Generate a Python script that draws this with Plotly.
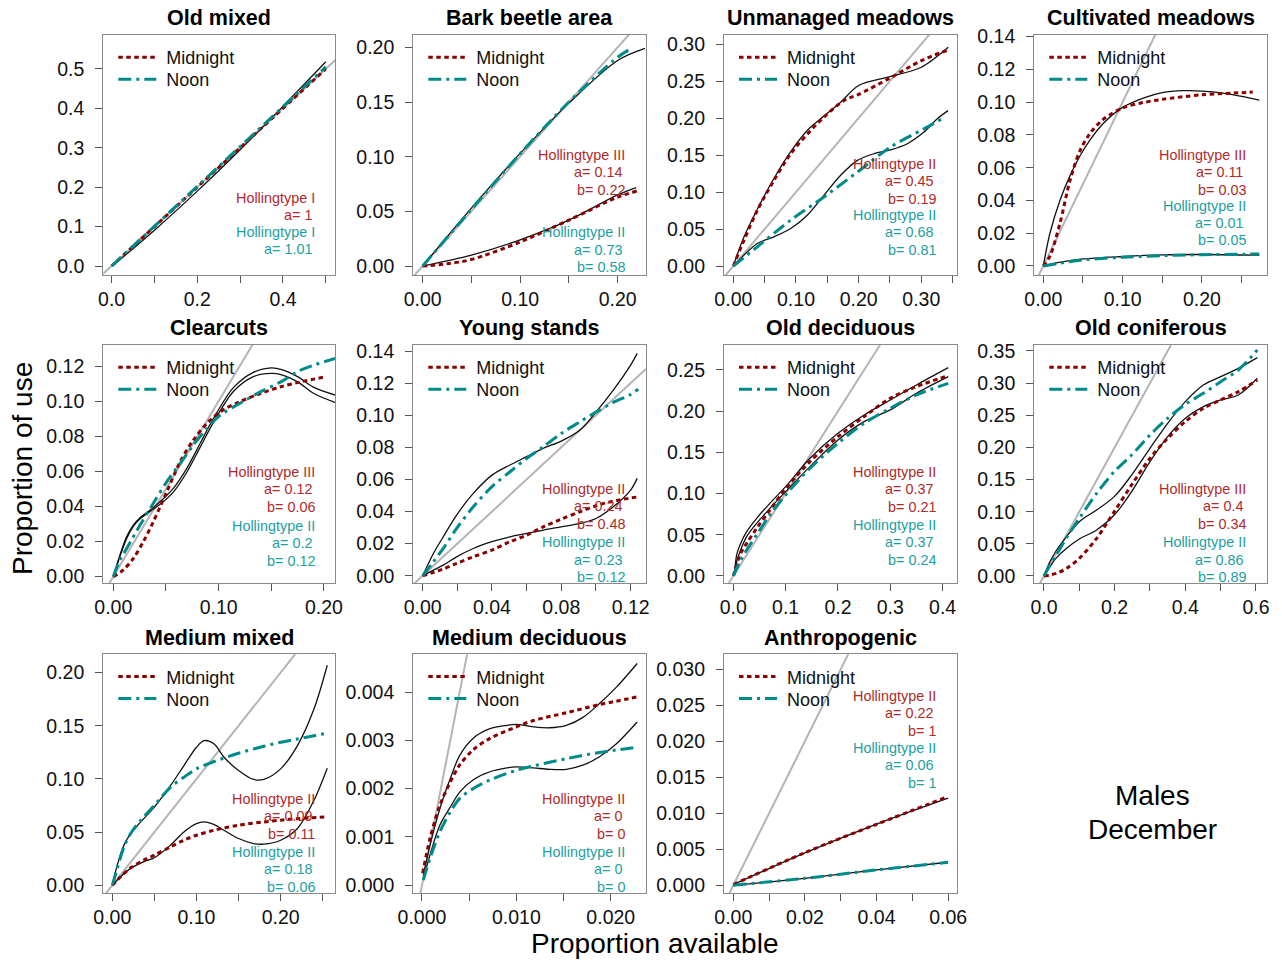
import plotly.graph_objects as go

W, H = 1282, 960

# ------------------------------------------------------------------
# Values
# ------------------------------------------------------------------
panel_titles = ["Old mixed", "Bark beetle area", "Unmanaged meadows", "Cultivated meadows",
                "Clearcuts", "Young stands", "Old deciduous", "Old coniferous",
                "Medium mixed", "Medium deciduous", "Anthropogenic"]

# Old mixed
om_smooth_x = [0.005, 0.1, 0.2, 0.3, 0.4, 0.5]
om_smooth_y = [0.003, 0.091, 0.19, 0.295, 0.405, 0.518]
om_mid_x = [0.0, 0.5]
om_mid_y = [0.0, 0.5]
om_noon_x = [0.0, 0.5]
om_noon_y = [0.0, 0.505]
om_mid_label = ["Hollingtype I", "a= 1"]
om_noon_label = ["Hollingtype I", "a= 1.01"]

# Bark beetle area
bb_smooth_mid_x = [0.0, 0.05, 0.1, 0.15, 0.2, 0.219]
bb_smooth_mid_y = [0.0, 0.010, 0.024, 0.042, 0.065, 0.0717]
bb_smooth_noon_x = [0.0, 0.05, 0.1, 0.15, 0.2, 0.228]
bb_smooth_noon_y = [0.0, 0.053, 0.103, 0.149, 0.188, 0.199]
bb_mid_x = [0.0, 0.025, 0.05, 0.1, 0.15, 0.2, 0.22]
bb_mid_y = [0.0, 0.002, 0.006, 0.022, 0.042, 0.063, 0.0687]
bb_noon_x = [0.0, 0.05, 0.1, 0.15, 0.2, 0.212]
bb_noon_y = [0.0, 0.052, 0.1027, 0.150, 0.191, 0.198]
bb_mid_label = ["Hollingtype III", "a= 0.14", "b= 0.22"]
bb_noon_label = ["Hollingtype II", "a= 0.73", "b= 0.58"]

# Unmanaged meadows
um_smooth_mid_x = [0.0, 0.0171, 0.0383, 0.065, 0.0916, 0.118, 0.1447, 0.1713, 0.2, 0.25, 0.3, 0.343]
um_smooth_mid_y = [0.0, 0.0395, 0.0768, 0.1186, 0.1545, 0.1832, 0.2026, 0.2214, 0.244, 0.256, 0.2686, 0.2955]
um_smooth_noon_x = [0.0, 0.0383, 0.065, 0.0916, 0.118, 0.1447, 0.1713, 0.198, 0.2245, 0.2511, 0.2777, 0.3043, 0.3255, 0.3426]
um_smooth_noon_y = [0.0, 0.0305, 0.0395, 0.0507, 0.0687, 0.0957, 0.1226, 0.1428, 0.1518, 0.157, 0.1653, 0.181, 0.199, 0.210]
um_mid_x = [0.0, 0.0171, 0.0383, 0.065, 0.0916, 0.1235, 0.1447, 0.1766, 0.2, 0.25, 0.3, 0.343]
um_mid_y = [0.0, 0.035, 0.0754, 0.1159, 0.1518, 0.1832, 0.2012, 0.2237, 0.232, 0.254, 0.2775, 0.292]
um_noon_x = [0.0, 0.0383, 0.0916, 0.1447, 0.198, 0.251, 0.3043, 0.3335]
um_noon_y = [0.0, 0.026, 0.062, 0.0934, 0.127, 0.1608, 0.1855, 0.199]
um_mid_label = ["Hollingtype II", "a= 0.45", "b= 0.19"]
um_noon_label = ["Hollingtype II", "a= 0.68", "b= 0.81"]

# Cultivated meadows
cm_smooth_mid_x = [0.0, 0.0084, 0.021, 0.0336, 0.046, 0.059, 0.0756, 0.1, 0.126, 0.15, 0.1765, 0.2, 0.227, 0.25, 0.2723]
cm_smooth_mid_y = [0.0, 0.02, 0.04, 0.055, 0.067, 0.077, 0.087, 0.0968, 0.1025, 0.1058, 0.107, 0.1068, 0.1055, 0.1035, 0.1013]
cm_smooth_noon_x = [0.0, 0.02, 0.05, 0.1, 0.15, 0.2, 0.2723]
cm_smooth_noon_y = [0.0, 0.0022, 0.0043, 0.0058, 0.0068, 0.0070, 0.0066]
cm_mid_x = [0.0, 0.0084, 0.021, 0.0336, 0.046, 0.059, 0.0756, 0.1, 0.126, 0.15, 0.2, 0.25, 0.264]
cm_mid_y = [0.0, 0.006, 0.026, 0.052, 0.070, 0.081, 0.0895, 0.0965, 0.0998, 0.1017, 0.1045, 0.1058, 0.1062]
cm_noon_x = [0.0, 0.02, 0.05, 0.1, 0.15, 0.2, 0.2723]
cm_noon_y = [0.0, 0.0016, 0.0037, 0.0053, 0.0063, 0.0069, 0.0073]
cm_mid_label = ["Hollingtype III", "a= 0.11", "b= 0.03"]
cm_noon_label = ["Hollingtype II", "a= 0.01", "b= 0.05"]

# Clearcuts
cc_smooth_a_x = [0.0, 0.0063, 0.0127, 0.019, 0.0254, 0.035, 0.0444, 0.057, 0.0698, 0.0825, 0.095, 0.114, 0.133, 0.15, 0.16, 0.175, 0.19, 0.2105]
cc_smooth_a_y = [0.0, 0.0123, 0.0228, 0.0294, 0.0336, 0.038, 0.0427, 0.0503, 0.0617, 0.076, 0.090, 0.1077, 0.1164, 0.119, 0.118, 0.114, 0.108, 0.1035]
cc_smooth_b_x = [0.0, 0.0063, 0.0127, 0.019, 0.0254, 0.035, 0.0444, 0.057, 0.0698, 0.0825, 0.095, 0.114, 0.133, 0.15, 0.16, 0.175, 0.19, 0.2105]
cc_smooth_b_y = [0.0, 0.0115, 0.0218, 0.0287, 0.033, 0.0372, 0.0412, 0.0482, 0.0595, 0.0738, 0.0878, 0.1055, 0.1140, 0.1158, 0.1150, 0.111, 0.1045, 0.0993]
cc_mid_x = [0.0, 0.0095, 0.019, 0.0286, 0.038, 0.0508, 0.0635, 0.076, 0.0889, 0.1016, 0.12, 0.14, 0.159, 0.178, 0.2016]
cc_mid_y = [0.0, 0.0038, 0.0104, 0.020, 0.0313, 0.0484, 0.0655, 0.0778, 0.0873, 0.094, 0.0997, 0.1044, 0.1082, 0.111, 0.1139]
cc_noon_x = [0.0, 0.0063, 0.0127, 0.0254, 0.038, 0.0508, 0.0635, 0.076, 0.089, 0.1016, 0.12, 0.14, 0.159, 0.178, 0.2105]
cc_noon_y = [0.0, 0.0095, 0.016, 0.0294, 0.0418, 0.0541, 0.0646, 0.075, 0.0845, 0.092, 0.0987, 0.1054, 0.111, 0.1177, 0.1244]
cc_mid_label = ["Hollingtype III", "a= 0.12", "b= 0.06"]
cc_noon_label = ["Hollingtype II", "a= 0.2", "b= 0.12"]

# Young stands
ys_smooth_noon_x = [0.0, 0.0062, 0.0119, 0.0196, 0.0292, 0.04, 0.0504, 0.06, 0.0696, 0.08, 0.0908, 0.1, 0.11, 0.12, 0.1238]
ys_smooth_noon_y = [0.0, 0.0139, 0.0243, 0.0378, 0.0513, 0.0627, 0.069, 0.0742, 0.0794, 0.0839, 0.0908, 0.102, 0.1157, 0.1313, 0.1386]
ys_smooth_mid_x = [0.0, 0.0062, 0.0119, 0.0196, 0.0292, 0.04, 0.0504, 0.06, 0.0696, 0.08, 0.0908, 0.1, 0.11, 0.12, 0.1238]
ys_smooth_mid_y = [0.0, 0.0035, 0.0066, 0.0118, 0.017, 0.0212, 0.0243, 0.0264, 0.0285, 0.0305, 0.0326, 0.0357, 0.043, 0.0534, 0.0607]
ys_mid_x = [0.0, 0.0062, 0.0119, 0.0196, 0.0292, 0.04, 0.0504, 0.06, 0.0696, 0.08, 0.0908, 0.1, 0.11, 0.1244]
ys_mid_y = [0.0, 0.0021, 0.0042, 0.0077, 0.0118, 0.016, 0.0212, 0.0253, 0.0305, 0.0353, 0.0399, 0.0436, 0.0465, 0.0492]
ys_noon_x = [0.0, 0.0062, 0.0119, 0.0196, 0.0292, 0.04, 0.0504, 0.06, 0.0696, 0.08, 0.0908, 0.1, 0.11, 0.12, 0.1244]
ys_noon_y = [0.0, 0.0087, 0.017, 0.0295, 0.043, 0.0555, 0.0648, 0.0731, 0.0804, 0.0887, 0.096, 0.102, 0.108, 0.113, 0.1163]
ys_mid_label = ["Hollingtype II", "a= 0.24", "b= 0.48"]
ys_noon_label = ["Hollingtype II", "a= 0.23", "b= 0.12"]

# Old deciduous
od_smooth_a_x = [0.002, 0.0064, 0.0127, 0.0255, 0.0446, 0.07, 0.1, 0.1465, 0.2, 0.25, 0.3, 0.35, 0.4108]
od_smooth_a_y = [0.0, 0.0255, 0.0376, 0.0538, 0.07, 0.0882, 0.1084, 0.1428, 0.1731, 0.1954, 0.2136, 0.2318, 0.2528]
od_smooth_b_x = [0.002, 0.0064, 0.0127, 0.0255, 0.0446, 0.07, 0.1, 0.1465, 0.2, 0.25, 0.3, 0.35, 0.4108]
od_smooth_b_y = [0.0, 0.0174, 0.0295, 0.0477, 0.0639, 0.0821, 0.1023, 0.1327, 0.165, 0.1873, 0.2015, 0.2217, 0.2419]
od_mid_x = [0.0, 0.0127, 0.0255, 0.0446, 0.07, 0.1, 0.1465, 0.2, 0.25, 0.3, 0.35, 0.4108]
od_mid_y = [0.0, 0.0255, 0.0396, 0.0578, 0.080, 0.1056, 0.1388, 0.169, 0.1934, 0.2156, 0.2298, 0.2431]
od_noon_x = [0.0, 0.0127, 0.0255, 0.0446, 0.07, 0.1, 0.1465, 0.2, 0.25, 0.3, 0.35, 0.4108]
od_noon_y = [0.0, 0.0174, 0.0316, 0.0498, 0.074, 0.0983, 0.1307, 0.161, 0.1853, 0.2035, 0.2197, 0.2338]
od_mid_label = ["Hollingtype II", "a= 0.37", "b= 0.21"]
od_noon_label = ["Hollingtype II", "a= 0.37", "b= 0.24"]

# Old coniferous
oc_smooth_noon_x = [0.0, 0.017, 0.0358, 0.064, 0.1, 0.149, 0.199, 0.248, 0.3, 0.35, 0.4, 0.451, 0.5, 0.55, 0.6038]
oc_smooth_noon_y = [0.0, 0.0223, 0.0404, 0.0612, 0.0845, 0.1027, 0.1234, 0.157, 0.1986, 0.2375, 0.2712, 0.2971, 0.310, 0.323, 0.3396]
oc_smooth_mid_x = [0.0, 0.017, 0.0358, 0.064, 0.1, 0.149, 0.199, 0.248, 0.3, 0.35, 0.4, 0.451, 0.5, 0.55, 0.6038]
oc_smooth_mid_y = [0.0, 0.0145, 0.0285, 0.043, 0.0576, 0.0716, 0.0949, 0.1312, 0.1778, 0.2167, 0.2453, 0.2634, 0.2738, 0.2816, 0.3075]
oc_mid_x = [0.0, 0.0358, 0.064, 0.1, 0.149, 0.199, 0.248, 0.3, 0.35, 0.4, 0.451, 0.5, 0.55, 0.6038]
oc_mid_y = [0.0, 0.0041, 0.0119, 0.0275, 0.0586, 0.1001, 0.1416, 0.183, 0.2141, 0.2401, 0.2608, 0.2738, 0.2867, 0.3049]
oc_noon_x = [0.0, 0.017, 0.0358, 0.064, 0.1, 0.149, 0.199, 0.248, 0.3, 0.35, 0.4, 0.451, 0.5, 0.55, 0.6038]
oc_noon_y = [0.0, 0.0171, 0.0337, 0.0596, 0.0897, 0.1286, 0.1623, 0.1882, 0.2193, 0.2453, 0.267, 0.2841, 0.3023, 0.3204, 0.3516]
oc_mid_label = ["Hollingtype III", "a= 0.4", "b= 0.34"]
oc_noon_label = ["Hollingtype II", "a= 0.86", "b= 0.89"]

# Medium mixed
mm_smooth_noon_x = [0.0, 0.0059, 0.0139, 0.0218, 0.0337, 0.05, 0.0693, 0.0851, 0.1, 0.109, 0.121, 0.1327, 0.15, 0.168, 0.18, 0.2, 0.22, 0.2396, 0.2554]
mm_smooth_noon_y = [0.0, 0.019, 0.0378, 0.0487, 0.0596, 0.0736, 0.0939, 0.1126, 0.1298, 0.136, 0.1329, 0.1204, 0.108, 0.0995, 0.0995, 0.1095, 0.1314, 0.1657, 0.2069]
mm_smooth_mid_x = [0.0, 0.0099, 0.0218, 0.0376, 0.05, 0.0693, 0.0851, 0.1, 0.109, 0.121, 0.1327, 0.15, 0.168, 0.18, 0.2, 0.22, 0.2396, 0.2554]
mm_smooth_mid_y = [0.0, 0.0081, 0.0159, 0.0222, 0.0259, 0.0378, 0.0502, 0.058, 0.0596, 0.0571, 0.0518, 0.044, 0.0393, 0.0387, 0.0424, 0.0534, 0.0799, 0.1101]
mm_mid_x = [0.0, 0.0099, 0.0218, 0.0376, 0.05, 0.0693, 0.0851, 0.1, 0.121, 0.15, 0.18, 0.2, 0.22, 0.2554]
mm_mid_y = [0.0, 0.0081, 0.0165, 0.0237, 0.0284, 0.0362, 0.0424, 0.0471, 0.0518, 0.0565, 0.0596, 0.0612, 0.0627, 0.0643]
mm_noon_x = [0.0, 0.0059, 0.0139, 0.0218, 0.0337, 0.05, 0.0693, 0.0851, 0.1, 0.121, 0.15, 0.18, 0.2, 0.22, 0.2396, 0.2554]
mm_noon_y = [0.0, 0.0159, 0.0362, 0.0487, 0.0612, 0.0752, 0.0924, 0.1017, 0.1095, 0.1164, 0.1242, 0.1307, 0.1345, 0.1376, 0.1407, 0.1432]
mm_mid_label = ["Hollingtype II", "a= 0.09", "b= 0.11"]
mm_noon_label = ["Hollingtype II", "a= 0.18", "b= 0.06"]

# Medium deciduous
md_smooth_mid_x = [0.00014, 0.00085, 0.0019, 0.003, 0.004, 0.0054, 0.0072, 0.009, 0.01, 0.0118, 0.0135, 0.0153, 0.0171, 0.0188, 0.0206, 0.0228]
md_smooth_mid_y = [0.00021, 0.00083, 0.00159, 0.00221, 0.00269, 0.00304, 0.00324, 0.00331, 0.00333, 0.00328, 0.00326, 0.00331, 0.00348, 0.00376, 0.0041, 0.00459]
md_smooth_noon_x = [0.00014, 0.00085, 0.0019, 0.003, 0.004, 0.0054, 0.0072, 0.009, 0.01, 0.0118, 0.0135, 0.0153, 0.0171, 0.0188, 0.0206, 0.0228]
md_smooth_noon_y = [0.00011, 0.00063, 0.00125, 0.00162, 0.00193, 0.00218, 0.00235, 0.00243, 0.00245, 0.00243, 0.0024, 0.0024, 0.00249, 0.00266, 0.00293, 0.00338]
md_mid_x = [0.00007, 0.00085, 0.0019, 0.003, 0.004, 0.0054, 0.0072, 0.01, 0.0118, 0.0153, 0.0188, 0.0206, 0.0228]
md_mid_y = [0.00025, 0.00097, 0.00166, 0.00214, 0.00249, 0.0028, 0.00304, 0.00328, 0.00341, 0.00357, 0.00374, 0.00381, 0.0039]
md_noon_x = [0.00014, 0.00085, 0.0019, 0.003, 0.004, 0.0054, 0.0072, 0.01, 0.0118, 0.0153, 0.0188, 0.0206, 0.0228]
md_noon_y = [0.00011, 0.00056, 0.00111, 0.00152, 0.0018, 0.002, 0.00218, 0.00238, 0.00247, 0.00262, 0.00275, 0.0028, 0.00286]
md_mid_label = ["Hollingtype II", "a= 0", "b= 0"]
md_noon_label = ["Hollingtype II", "a= 0", "b= 0"]

# Anthropogenic
an_smooth_mid_x = [0.0, 0.02, 0.04, 0.06]
an_smooth_mid_y = [0.0001, 0.0045, 0.0085, 0.0121]
an_smooth_noon_x = [0.0, 0.02, 0.04, 0.06]
an_smooth_noon_y = [0.0, 0.00097, 0.00213, 0.0032]
an_mid_x = [0.0, 0.02, 0.04, 0.0599]
an_mid_y = [0.0001, 0.00454, 0.00847, 0.0123]
an_noon_x = [0.0, 0.02, 0.04, 0.06]
an_noon_y = [0.0, 0.00097, 0.00213, 0.0032]
an_mid_label = ["Hollingtype II", "a= 0.22", "b= 1"]
an_noon_label = ["Hollingtype II", "a= 0.06", "b= 1"]

identity_x = [-1.0, 1.0]
identity_y = [-1.0, 1.0]

legend_labels = ["Midnight", "Noon"]
corner_text = ["Males", "December"]
x_title = "Proportion available"
y_title = "Proportion of use"

# tick values / labels per panel
ticks = [
    ([0, 0.1, 0.2, 0.3, 0.4, 0.5], ["0.0", "", "0.2", "", "0.4", ""],
     [0, 0.1, 0.2, 0.3, 0.4, 0.5], ["0.0", "0.1", "0.2", "0.3", "0.4", "0.5"]),
    ([0, 0.05, 0.1, 0.15, 0.2], ["0.00", "", "0.10", "", "0.20"],
     [0, 0.05, 0.1, 0.15, 0.2], ["0.00", "0.05", "0.10", "0.15", "0.20"]),
    ([0, 0.05, 0.1, 0.15, 0.2, 0.25, 0.3, 0.35], ["0.00", "", "0.10", "", "0.20", "", "0.30", ""],
     [0, 0.05, 0.1, 0.15, 0.2, 0.25, 0.3], ["0.00", "0.05", "0.10", "0.15", "0.20", "0.25", "0.30"]),
    ([0, 0.05, 0.1, 0.15, 0.2, 0.25], ["0.00", "", "0.10", "", "0.20", ""],
     [0, 0.02, 0.04, 0.06, 0.08, 0.1, 0.12, 0.14], ["0.00", "0.02", "0.04", "0.06", "0.08", "0.10", "0.12", "0.14"]),
    ([0, 0.05, 0.1, 0.15, 0.2], ["0.00", "", "0.10", "", "0.20"],
     [0, 0.02, 0.04, 0.06, 0.08, 0.1, 0.12], ["0.00", "0.02", "0.04", "0.06", "0.08", "0.10", "0.12"]),
    ([0, 0.02, 0.04, 0.06, 0.08, 0.1, 0.12], ["0.00", "", "0.04", "", "0.08", "", "0.12"],
     [0, 0.02, 0.04, 0.06, 0.08, 0.1, 0.12, 0.14], ["0.00", "0.02", "0.04", "0.06", "0.08", "0.10", "0.12", "0.14"]),
    ([0, 0.1, 0.2, 0.3, 0.4], ["0.0", "0.1", "0.2", "0.3", "0.4"],
     [0, 0.05, 0.1, 0.15, 0.2, 0.25], ["0.00", "0.05", "0.10", "0.15", "0.20", "0.25"]),
    ([0, 0.1, 0.2, 0.3, 0.4, 0.5, 0.6], ["0.0", "", "0.2", "", "0.4", "", "0.6"],
     [0, 0.05, 0.1, 0.15, 0.2, 0.25, 0.3, 0.35], ["0.00", "0.05", "0.10", "0.15", "0.20", "0.25", "0.30", "0.35"]),
    ([0, 0.05, 0.1, 0.15, 0.2, 0.25], ["0.00", "", "0.10", "", "0.20", ""],
     [0, 0.05, 0.1, 0.15, 0.2], ["0.00", "0.05", "0.10", "0.15", "0.20"]),
    ([0, 0.005, 0.01, 0.015, 0.02], ["0.000", "", "0.010", "", "0.020"],
     [0, 0.001, 0.002, 0.003, 0.004], ["0.000", "0.001", "0.002", "0.003", "0.004"]),
    ([0, 0.01, 0.02, 0.03, 0.04, 0.05, 0.06], ["0.00", "", "0.02", "", "0.04", "", "0.06"],
     [0, 0.005, 0.01, 0.015, 0.02, 0.025, 0.03], ["0.000", "0.005", "0.010", "0.015", "0.020", "0.025", "0.030"]),
]

# ------------------------------------------------------------------
# Layout (pixels in the final screenshot)
# ------------------------------------------------------------------
OFF = 0  # body margin removed by post_script below
col_left = [103.3, 413.3, 724.0, 1034.3]
col_right = [335.0, 645.7, 956.7, 1266.7]
row_top = [35.0, 345.0, 654.3]
row_bot = [275.0, 583.3, 893.3]
title_y = [18, 328, 638]


def fx(px):
    return (px - OFF) / W


def fy(py):
    return 1 - (py - OFF) / H


x_ranges = [[-0.0195, 0.5215], [-0.0096, 0.2288], [-0.0149, 0.3565], [-0.0113, 0.2816],
            [-0.0095, 0.2105], [-0.0054, 0.1287], [-0.0178, 0.4269], [-0.0274, 0.6303],
            [-0.0107, 0.2646], [-0.00092, 0.0237], [-0.0026, 0.0624]]
y_ranges = [[-0.0228, 0.586], [-0.0082, 0.2113], [-0.0121, 0.3122], [-0.0055, 0.141],
            [-0.0038, 0.132], [-0.0047, 0.1438], [-0.0089, 0.2803], [-0.0114, 0.3593],
            [-0.0075, 0.2172], [-0.000165, 0.00478], [-0.00111, 0.03208]]

# y (px) of first line of red and teal label blocks
label_red_y = [197.7, 155, 164, 155, 471.7, 489, 471.7, 489, 799, 799, 695.7]
label_teal_y = [231.7, 232.3, 215, 205.7, 525.7, 542.3, 525, 542.3, 851.7, 851.7, 747.7]

smooth_curves = [
    [(om_smooth_x, om_smooth_y)],
    [(bb_smooth_mid_x, bb_smooth_mid_y), (bb_smooth_noon_x, bb_smooth_noon_y)],
    [(um_smooth_mid_x, um_smooth_mid_y), (um_smooth_noon_x, um_smooth_noon_y)],
    [(cm_smooth_mid_x, cm_smooth_mid_y), (cm_smooth_noon_x, cm_smooth_noon_y)],
    [(cc_smooth_a_x, cc_smooth_a_y), (cc_smooth_b_x, cc_smooth_b_y)],
    [(ys_smooth_mid_x, ys_smooth_mid_y), (ys_smooth_noon_x, ys_smooth_noon_y)],
    [(od_smooth_a_x, od_smooth_a_y), (od_smooth_b_x, od_smooth_b_y)],
    [(oc_smooth_mid_x, oc_smooth_mid_y), (oc_smooth_noon_x, oc_smooth_noon_y)],
    [(mm_smooth_mid_x, mm_smooth_mid_y), (mm_smooth_noon_x, mm_smooth_noon_y)],
    [(md_smooth_mid_x, md_smooth_mid_y), (md_smooth_noon_x, md_smooth_noon_y)],
    [(an_smooth_mid_x, an_smooth_mid_y), (an_smooth_noon_x, an_smooth_noon_y)],
]
mid_curves = [(om_mid_x, om_mid_y), (bb_mid_x, bb_mid_y), (um_mid_x, um_mid_y), (cm_mid_x, cm_mid_y),
              (cc_mid_x, cc_mid_y), (ys_mid_x, ys_mid_y), (od_mid_x, od_mid_y), (oc_mid_x, oc_mid_y),
              (mm_mid_x, mm_mid_y), (md_mid_x, md_mid_y), (an_mid_x, an_mid_y)]
noon_curves = [(om_noon_x, om_noon_y), (bb_noon_x, bb_noon_y), (um_noon_x, um_noon_y), (cm_noon_x, cm_noon_y),
               (cc_noon_x, cc_noon_y), (ys_noon_x, ys_noon_y), (od_noon_x, od_noon_y), (oc_noon_x, oc_noon_y),
               (mm_noon_x, mm_noon_y), (md_noon_x, md_noon_y), (an_noon_x, an_noon_y)]
mid_labels = [om_mid_label, bb_mid_label, um_mid_label, cm_mid_label, cc_mid_label, ys_mid_label,
              od_mid_label, oc_mid_label, mm_mid_label, md_mid_label, an_mid_label]
noon_labels = [om_noon_label, bb_noon_label, um_noon_label, cm_noon_label, cc_noon_label, ys_noon_label,
               od_noon_label, oc_noon_label, mm_noon_label, md_noon_label, an_noon_label]

RED = "#8b0000"
TEAL = "#008b8b"
RED_TXT = "#b02a2a"
TEAL_TXT = "#1ca0a0"
GREY = "#b4b4b4"
FONT = "Liberation Sans, Arial, Helvetica, sans-serif"
DOT = "4.5px,3.5px"
DASHDOT = "13px,5px,3px,5px"
NBSP = "\u00a0"

fig = go.Figure()
annotations = []
layout = dict(template="none", width=W, height=H,
              margin=dict(l=0, r=0, t=0, b=0, pad=0, autoexpand=False),
              paper_bgcolor="white", plot_bgcolor="white",
              font=dict(family=FONT, color="#111111"), showlegend=True)

for i in range(11):
    r, c = divmod(i, 4)
    n = i + 1
    xa = "x" if n == 1 else f"x{n}"
    ya = "y" if n == 1 else f"y{n}"
    lg_mid = "legend" if n == 1 else f"legend{2 * n - 1}"
    lg_noon = f"legend{2 * n}"
    L, R_ = col_left[c], col_right[c]
    T, B = row_top[r], row_bot[r]
    xt, xtt, yt, ytt = ticks[i]
    axis_common = dict(showline=True, mirror=True, linecolor="#8a8a8a", linewidth=1.2,
                       ticks="outside", ticklen=7, tickwidth=1, tickcolor="#555555",
                       showgrid=False, zeroline=False, automargin=False,
                       tickfont=dict(size=19.5, family=FONT, color="#111111"))
    layout["xaxis" if n == 1 else f"xaxis{n}"] = dict(
        domain=[fx(L), fx(R_)], anchor=ya, range=x_ranges[i],
        tickvals=xt, ticktext=xtt, ticklabelstandoff=-1, **axis_common)
    layout["yaxis" if n == 1 else f"yaxis{n}"] = dict(
        domain=[fy(B), fy(T)], anchor=xa, range=y_ranges[i],
        tickvals=yt, ticktext=ytt, ticklabelstandoff=7, **axis_common)

    # identity line
    fig.add_trace(go.Scatter(x=identity_x, y=identity_y, mode="lines", xaxis=xa, yaxis=ya,
                             line=dict(color=GREY, width=2), showlegend=False, hoverinfo="skip"))
    for sx, sy in smooth_curves[i]:
        fig.add_trace(go.Scatter(x=sx, y=sy, mode="lines", xaxis=xa, yaxis=ya,
                                 line=dict(color="#111111", width=1.3, shape="spline", smoothing=0.9),
                                 showlegend=False, hoverinfo="skip"))
    mx, my = mid_curves[i]
    fig.add_trace(go.Scatter(x=mx, y=my, mode="lines", xaxis=xa, yaxis=ya,
                             name=NBSP + legend_labels[0],
                             line=dict(color=RED, width=3, dash=DOT, shape="spline", smoothing=0.9),
                             legend=lg_mid, showlegend=True))
    nx, ny = noon_curves[i]
    fig.add_trace(go.Scatter(x=nx, y=ny, mode="lines", xaxis=xa, yaxis=ya,
                             name=NBSP + legend_labels[1],
                             line=dict(color=TEAL, width=3, dash=DASHDOT, shape="spline", smoothing=0.9),
                             legend=lg_noon, showlegend=True))

    for lg, dy in ((lg_mid, 0), (lg_noon, 22)):
        layout[lg] = dict(x=fx(L + 10), y=fy(T + 4 + dy), xanchor="left", yanchor="top",
                          bgcolor="rgba(0,0,0,0)", borderwidth=0, itemwidth=38,
                          font=dict(size=18, family=FONT, color="#111111"))

    # title
    annotations.append(dict(text=f"<b>{panel_titles[i]}</b>", x=fx((L + R_) / 2), y=fy(title_y[r]),
                            xref="paper", yref="paper", showarrow=False, xanchor="center", yanchor="middle",
                            font=dict(size=21.5, family=FONT, color="#000000")))
    # Holling labels
    right = R_ - 18.5
    for lines, y0, col in ((mid_labels[i], label_red_y[i], RED_TXT), (noon_labels[i], label_teal_y[i], TEAL_TXT)):
        for k, t in enumerate(lines):
            off = 3 if t.startswith("a=") else 0
            annotations.append(dict(text=t, x=fx(right - off), y=fy(y0 + 17.4 * k),
                                    xref="paper", yref="paper", showarrow=False,
                                    xanchor="right", yanchor="middle",
                                    font=dict(size=14.4, family=FONT, color=col)))

annotations.append(dict(text=x_title, x=fx(655), y=fy(943), xref="paper", yref="paper",
                        showarrow=False, xanchor="center", yanchor="middle",
                        font=dict(size=28, family=FONT, color="#000000")))
annotations.append(dict(text=y_title, x=fx(22), y=fy(469), xref="paper", yref="paper",
                        showarrow=False, xanchor="center", yanchor="middle", textangle=-90,
                        font=dict(size=28, family=FONT, color="#000000")))
annotations.append(dict(text=corner_text[0], x=fx(1152), y=fy(795), xref="paper", yref="paper",
                        showarrow=False, xanchor="center", yanchor="middle",
                        font=dict(size=28, family=FONT, color="#000000")))
annotations.append(dict(text=corner_text[1], x=fx(1152), y=fy(829), xref="paper", yref="paper",
                        showarrow=False, xanchor="center", yanchor="middle",
                        font=dict(size=28, family=FONT, color="#000000")))

layout["annotations"] = annotations
fig.update_layout(**layout)
fig.write_html("out.html", config={"displayModeBar": False},
               post_script="document.body.style.margin='0px';")
